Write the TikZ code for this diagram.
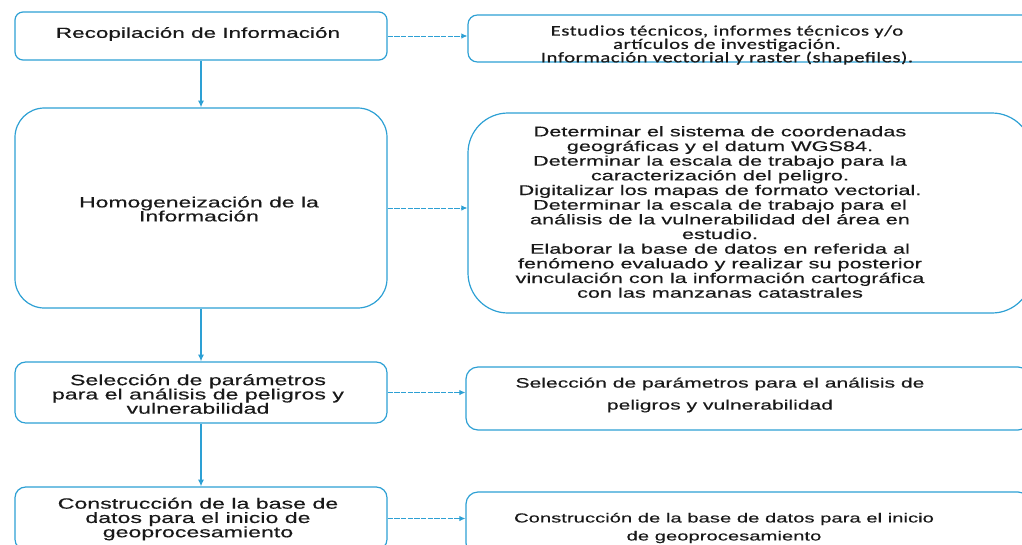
\documentclass[tikz,border=0pt]{standalone}
\usepackage{fontspec}
\setmainfont{Liberation Sans}
\newfontfamily\arialw{Liberation Sans}[FakeStretch=1.55,FakeBold=0.4]
\newfontfamily\calibw{Carlito}[FakeStretch=1.4,LetterSpace=4,FakeBold=0.6]
\usetikzlibrary{arrows.meta}
\definecolor{cblue}{RGB}{45,160,212}
\definecolor{ink}{RGB}{25,25,25}
\tikzset{
  box/.style={draw=cblue, line width=0.9pt, inner sep=0pt, fill=none},
  lbox/.style={box, minimum width=279pt},
  rbox/.style={box, minimum width=423pt},
  txt/.style={text=ink, align=center, inner sep=0pt},
  downarrow/.style={draw=cblue, line width=1.1pt, -{Latex[length=5pt,width=4.5pt]}},
  sidearrow/.style={draw=cblue, line width=0.6pt, dash pattern=on 4pt off 1pt, -{Latex[length=4.5pt,width=4pt]}}
}
\begin{document}
\begin{tikzpicture}[x=0.75pt,y=-0.75pt]
\useasboundingbox (0,0) rectangle (1022,544);
\clip (0,0) rectangle (1022,544);
% left column
\node[lbox, minimum height=36pt, rounded corners=6pt] (L1) at (201,36) {};
\node[lbox, minimum height=150pt, rounded corners=22pt] (L2) at (201,208) {};
\node[lbox, minimum height=45.75pt, rounded corners=8pt] (L3) at (201,392.5) {};
\node[lbox, minimum height=47.25pt, rounded corners=8pt] (L4) at (201,518.5) {};
% right column
\node[rbox, minimum height=35.25pt, rounded corners=7pt] (R1) at (750,38.5) {};
\node[rbox, minimum height=150pt, rounded corners=30pt] (R2) at (750,213) {};
\node[rbox, minimum height=47.25pt, rounded corners=9pt] (R3) at (748,398.5) {};
\node[rbox, minimum height=47.25pt, rounded corners=9pt] (R4) at (748,523.5) {};
% texts
\node[txt, font=\arialw\fontsize{10.9pt}{10.5pt}\selectfont] (T1) at (198,34) {Recopilación de Información};
\node[txt, font=\arialw\fontsize{11.1pt}{10.5pt}\selectfont] (T2) at (199,209) {Homogeneización de la\\Información};
\node[txt, font=\arialw\fontsize{11.2pt}{10.7pt}\selectfont] (T3) at (198,394) {Selección de parámetros\\para el análisis de peligros y\\vulnerabilidad};
\node[txt, font=\arialw\fontsize{11.2pt}{10.7pt}\selectfont] (T4) at (198,519) {Construcción de la base de\\datos para el inicio de\\geoprocesamiento};
\node[txt, font=\calibw\fontsize{11pt}{10pt}\selectfont] (U1) at (727,45) {Estudios técnicos, informes técnicos y/o\\artículos de investigación.\\Información vectorial y raster (shapefiles).};
\node[txt, font=\arialw\fontsize{10.5pt}{11pt}\selectfont] (U2) at (720,212) {Determinar el sistema de coordenadas\\geográficas y el datum WGS84.\\Determinar la escala de trabajo para la\\caracterización del peligro.\\Digitalizar los mapas de formato vectorial.\\Determinar la escala de trabajo para el\\análisis de la vulnerabilidad del área en\\estudio.\\Elaborar la base de datos en referida al\\fenómeno evaluado y realizar su posterior\\vinculación con la información cartográfica\\con las manzanas catastrales};
\node[txt, font=\arialw\fontsize{10.2pt}{16.5pt}\selectfont] (U3) at (720,395) {Selección de parámetros para el análisis de\\peligros y vulnerabilidad};
\node[txt, font=\arialw\fontsize{9.8pt}{13.5pt}\selectfont] (U4) at (724,528) {Construcción de la base de datos para el inicio\\de geoprocesamiento};
% connectors
\draw[downarrow] (L1.south) -- (L2.north);
\draw[downarrow] (L2.south) -- (L3.north);
\draw[downarrow] (L3.south) -- (L4.north);
\draw[sidearrow] (L1.east) -- (L1.east -| R1.west);
\draw[sidearrow] (L2.east) -- (L2.east -| R2.west);
\draw[sidearrow] (L3.east) -- (L3.east -| R3.west);
\draw[sidearrow] (L4.east) -- (L4.east -| R4.west);
\end{tikzpicture}
\end{document}
